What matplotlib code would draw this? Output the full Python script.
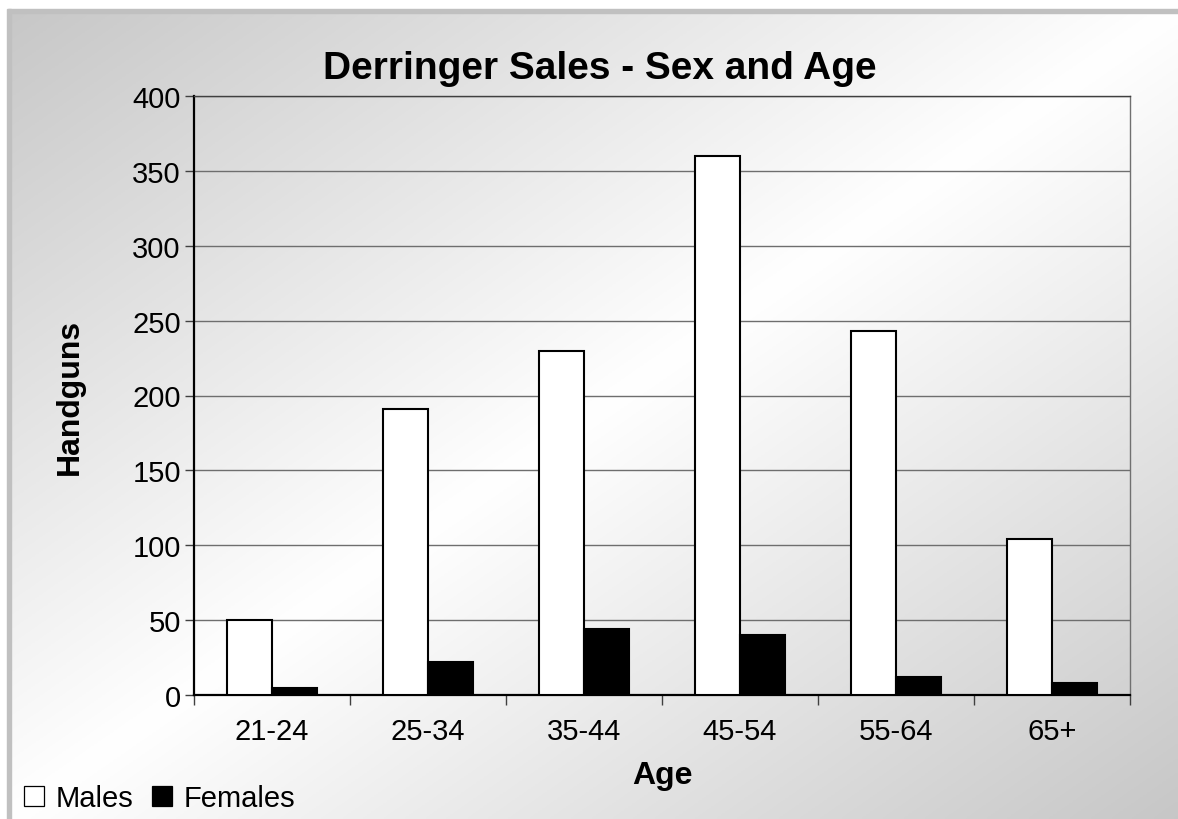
import numpy as np
import matplotlib.pyplot as plt
from matplotlib.lines import Line2D
from matplotlib.patches import Rectangle

plt.rcParams['font.family'] = ['Liberation Sans', 'DejaVu Sans']

ages = ['21-24', '25-34', '35-44', '45-54', '55-64', '65+']
males = [50, 191, 230, 360, 243, 104]
females = [5, 22, 44, 40, 12, 8]
yticks = [0, 50, 100, 150, 200, 250, 300, 350, 400]

W, H = 1178, 820
fig = plt.figure(figsize=(W / 100, H / 100), dpi=100, facecolor='white')

# chart area gradient: grey corners, white along the middle diagonal
x0, y0 = 8, 10
bg = fig.add_axes([x0 / W, 0, 1 - x0 / W, 1 - y0 / H], zorder=-10)
xx, yy = np.meshgrid(np.linspace(0, 1, 300), np.linspace(0, 1, 300))
t = (xx + yy) / 2
v = 0.78 + 0.22 * (1 - np.abs(2 * t - 1))
bg.imshow(np.dstack([v, v, v]), aspect='auto', extent=(0, 1, 1, 0))
bg.axis('off')

# grey frame on top and left
fig.patches.append(Rectangle((x0 / W, 1 - 14 / H), 1, 4 / H, transform=fig.transFigure,
                             color='#c0c0c0', zorder=-5))
fig.patches.append(Rectangle((7 / W, 0), 4 / W, 1 - y0 / H, transform=fig.transFigure,
                             color='#c0c0c0', zorder=-5))

ax = fig.add_axes([194 / W, (H - 696) / H, (1130 - 194) / W, (696 - 97) / H])
ax.set_facecolor('none')

x = np.arange(len(ages))
w = 1 / 3.5
ax.bar(x - w / 2, males, w, color='white', edgecolor='black', linewidth=1.5, zorder=3)
ax.bar(x + w / 2, females, w, color='black', edgecolor='black', linewidth=1.5, zorder=3)

ax.set_xlim(-0.5, len(ages) - 0.5)
ax.set_ylim(0, 400)
ax.set_yticks(yticks)
ax.yaxis.grid(True, color='#6e6e6e', linewidth=1.0)
ax.set_axisbelow(True)

ax.set_xticks(x)
ax.set_xticklabels(ages, fontsize=21)
ax.set_xticks(np.arange(-0.5, len(ages)), minor=True)
ax.tick_params(axis='x', which='major', length=0, pad=16)
ax.tick_params(axis='x', which='minor', length=7, width=1, color='#404040', direction='out')
ax.tick_params(axis='y', length=6.5, width=1, color='#404040', direction='out', pad=3, labelsize=21)

for s in ['left', 'bottom']:
    ax.spines[s].set_linewidth(1.6)
    ax.spines[s].set_color('black')
ax.spines['top'].set_color('#404040')
ax.spines['top'].set_linewidth(1.0)
ax.spines['right'].set_color('#707070')
ax.spines['right'].set_linewidth(1.0)

ax.set_ylabel('Handguns', fontsize=23, fontweight='bold')
ax.yaxis.set_label_coords(-0.1165, 0.5)
ax.set_xlabel('Age', fontsize=23, fontweight='bold', va='top')
ax.xaxis.set_label_coords(0.5, -0.108)

fig.text(600 / W, 1 - 79 / H, 'Derringer Sales - Sex and Age', fontsize=28,
         fontweight='bold', ha='center', va='baseline')

handles = [
    Line2D([], [], linestyle='none', marker='s', markersize=14, markerfacecolor='white',
           markeredgecolor='black', markeredgewidth=0.9),
    Line2D([], [], linestyle='none', marker='s', markersize=14, markerfacecolor='black',
           markeredgecolor='black', markeredgewidth=0.9),
]
fig.legend(handles, ['Males', 'Females'], loc='center left', ncol=2, frameon=False,
           bbox_to_anchor=(24 / W, 1 - 799 / H), fontsize=21, borderpad=0,
           borderaxespad=0, handlelength=0.7, handletextpad=0.4, columnspacing=0.6)

fig.savefig('out.png', dpi=100)
